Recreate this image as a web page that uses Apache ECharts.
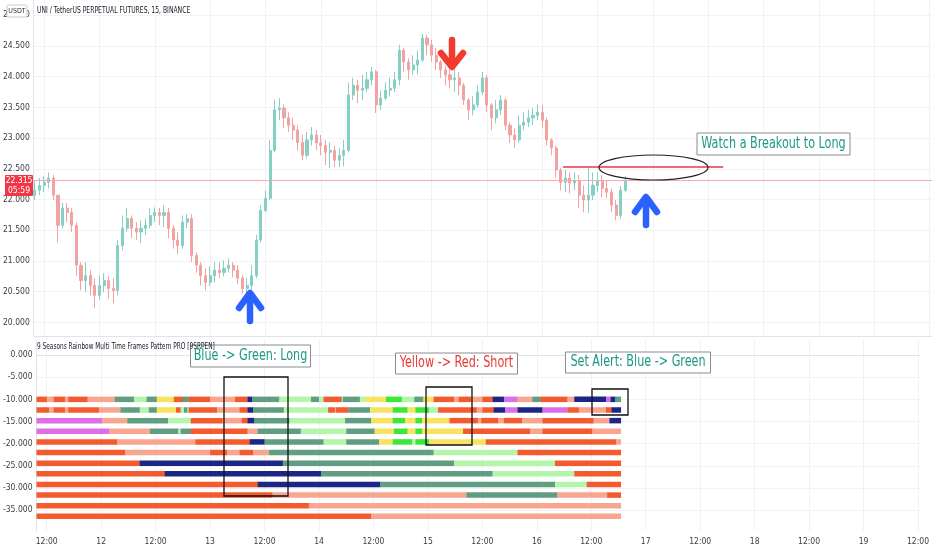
<!DOCTYPE html>
<html>
<head>
<meta charset="utf-8">
<script src="https://cdn.jsdelivr.net/npm/echarts@6/dist/echarts.min.js"></script>
<style>
html,body{margin:0;padding:0;background:#fff;}
#chart{width:932px;height:550px;}
</style>
</head>
<body>
<div id="chart"></div>
<script>
// ---------- DATA ----------
const firstHour = 10;          // hour (from day 11 00:00) of first candle
const firstOpen = 22.07;
const closes = [
 22.15,22.23,22.28,22.35,22.07,21.58,21.86,21.79,21.58,20.93,
 20.68,20.76,20.60,20.44,20.60,20.68,20.55,20.52,21.25,21.53,
 21.69,21.53,21.47,21.53,21.58,21.74,21.79,21.74,21.79,21.53,
 21.34,21.25,21.63,21.69,21.09,20.93,20.76,20.65,20.76,20.85,
 20.81,20.88,20.93,20.85,20.72,20.55,20.60,20.76,21.34,21.82,
 22.02,22.80,23.46,23.49,23.33,23.21,23.13,22.93,22.72,22.97,
 23.05,22.92,22.88,22.77,22.80,22.64,22.72,22.80,23.70,23.86,
 23.78,23.81,23.95,24.08,23.54,23.65,23.78,23.81,23.95,24.43,
 24.24,24.11,24.19,24.27,24.63,24.52,24.35,24.24,24.11,24.03,
 23.95,23.98,23.86,23.62,23.46,23.54,23.75,23.98,23.54,23.33,
 23.46,23.62,23.21,23.05,22.97,23.21,23.26,23.33,23.37,23.42,
 23.29,22.97,22.84,22.48,22.28,22.35,22.27,22.31,22.07,21.99,
 22.07,22.23,22.31,22.18,22.12,21.91,21.74,22.15,22.315
];
const highs = [
 22.31,22.35,22.38,22.44,22.40,22.07,21.95,21.94,21.86,21.63,
 20.98,20.98,20.85,20.72,20.76,20.80,20.76,20.72,21.34,21.74,
 21.86,21.74,21.63,21.66,21.69,21.86,21.87,21.86,21.91,21.86,
 21.58,21.47,21.74,21.76,21.76,21.14,20.98,20.88,20.91,20.98,
 20.98,21.01,21.04,20.98,20.93,20.76,20.72,20.93,21.42,21.91,
 22.15,22.97,23.62,23.65,23.55,23.42,23.33,23.21,23.05,23.10,
 23.18,23.13,23.05,22.97,22.93,22.88,22.84,22.97,23.90,23.98,
 23.95,24.03,24.08,24.16,24.11,23.78,23.91,23.98,24.08,24.52,
 24.47,24.30,24.35,24.43,24.70,24.68,24.60,24.47,24.27,24.17,
 24.11,24.14,24.08,23.90,23.65,23.68,23.86,24.08,24.03,23.57,
 23.62,23.70,23.65,23.26,23.16,23.37,23.42,23.46,23.49,23.55,
 23.54,23.33,23.00,22.88,22.51,22.48,22.44,22.44,22.40,22.23,
 22.53,22.44,22.44,22.40,22.31,22.18,21.99,22.22,22.38
];
const lows = [
 21.99,22.07,22.12,22.18,21.99,21.30,21.53,21.63,21.47,20.76,
 20.52,20.49,20.44,20.23,20.36,20.49,20.39,20.31,20.44,21.17,
 21.47,21.37,21.34,21.29,21.42,21.53,21.63,21.58,21.55,21.37,
 21.20,21.12,21.20,21.53,20.98,20.81,20.60,20.52,20.59,20.65,
 20.72,20.75,20.81,20.73,20.62,20.47,20.45,20.52,20.72,21.30,
 21.79,21.99,22.77,23.29,23.16,23.10,22.97,22.80,22.64,22.67,
 22.88,22.80,22.72,22.56,22.51,22.53,22.53,22.54,22.77,23.62,
 23.57,23.62,23.75,23.86,23.41,23.46,23.62,23.68,23.75,23.86,
 24.08,23.95,24.03,24.04,24.24,24.35,24.24,24.11,23.98,23.86,
 23.81,23.75,23.70,23.54,23.29,23.37,23.49,23.70,23.42,23.13,
 23.24,23.37,23.13,22.92,22.84,22.93,23.13,23.18,23.21,23.29,
 23.16,22.88,22.72,22.35,22.15,22.12,22.10,22.15,21.86,21.79,
 21.78,21.99,22.12,22.04,22.02,21.79,21.66,21.69,22.12
];
const lastPrice = 22.315;
const resistance = 22.53;
const resistanceFrom = 124.5, resistanceTo = 159.25;

// tick labels
const xTicks = [12,24,36,48,60,72,84,96,108,120,132,144,156,168,180,192,204];
const xTickLabels = ['12:00','12','12:00','13','12:00','14','12:00','15','12:00','16','12:00','17','12:00','18','12:00','19','12:00'];
const priceTicks = [20,20.5,21,21.5,22,22.5,23,23.5,24,24.5,25];
const indTicks = [0,-5,-10,-15,-20,-25,-30,-35];

// rainbow indicator rows: level + segments [endHour, colourCode]
const rowStart = 9.75;
const rowLevels = [-10,-12.4,-14.8,-17.2,-19.6,-22,-24.4,-26.8,-29.2,-31.6,-34,-36.4];
const row1 = [[12,'R'],[13.5,'S'],[16,'R'],[16.75,'S'],[21,'R'],[27,'S'],[31.25,'D'],[34,'L'],[36.25,'D'],[40,'Y'],[42,'R'],[43.25,'D'],[48,'R'],[53.5,'S'],[56.25,'R'],[57.25,'N'],[63.25,'D'],[70.25,'L'],[72,'D'],[73,'L'],[77,'R'],[77.25,'L'],[81,'D'],[82.25,'L'],[86.75,'Y'],[90.25,'G'],[93,'L'],[95,'D'],[97.25,'Y'],[101.75,'R'],[102.75,'S'],[105.5,'R'],[108,'S'],[110.25,'R'],[112.75,'N'],[115.75,'V'],[119,'S'],[120.75,'D'],[126.75,'R'],[128.25,'S'],[135.25,'N'],[136.25,'V'],[137.25,'N'],[138.5,'D']];
const row2 = [[12.5,'R'],[13.5,'S'],[16,'R'],[16.75,'S'],[23.5,'R'],[28.25,'S'],[32.5,'D'],[34.5,'L'],[36.25,'D'],[40.5,'Y'],[41.5,'R'],[42.25,'L'],[43,'D'],[43.25,'L'],[49.5,'R'],[54.5,'S'],[56.25,'R'],[57.5,'N'],[64.25,'D'],[74,'L'],[75.5,'R'],[75.75,'S'],[78.5,'R'],[83.25,'D'],[88.25,'Y'],[91.5,'G'],[93.25,'Y'],[96.25,'G'],[98.25,'L'],[106.75,'R'],[108,'S'],[110.5,'R'],[113,'N'],[115.75,'V'],[121.25,'N'],[126.75,'V'],[129.25,'R'],[135.25,'S'],[136.5,'R'],[138.5,'N']];
const row3 = [[24.25,'V'],[29.75,'S'],[38.75,'D'],[43.75,'L'],[50.75,'R'],[55,'S'],[56.25,'R'],[57.75,'N'],[65.5,'D'],[77.75,'L'],[83.5,'D'],[88.25,'Y'],[91,'G'],[93.25,'Y'],[94.75,'G'],[100.75,'Y'],[107,'R'],[107.75,'S'],[111.5,'R'],[112.75,'S'],[116.75,'R'],[121.25,'S'],[132.5,'R'],[136,'S'],[138.5,'N']];
const row4 = [[25.75,'V'],[34.75,'S'],[41,'D'],[41.5,'L'],[43.75,'D'],[56.25,'R'],[58.5,'S'],[68,'D'],[78,'L'],[84.25,'D'],[88.5,'Y'],[91.5,'G'],[93.25,'Y'],[94.75,'G'],[103.75,'Y'],[118.5,'R'],[121.25,'S'],[132.25,'R'],[138.5,'S']];
const row5 = [[27.5,'R'],[44.75,'S'],[56.75,'R'],[60,'N'],[73,'D'],[78,'L'],[85.25,'D'],[88.25,'Y'],[92.5,'G'],[93.25,'L'],[96.25,'G'],[108.75,'Y'],[137.5,'R'],[138.5,'S']];
const row6 = [[29.25,'R'],[48,'S'],[51.75,'R'],[54.5,'S'],[57.5,'R'],[61,'S'],[97.25,'D'],[115.75,'L'],[138.5,'R']];
const row7 = [[32.5,'R'],[64,'N'],[101.75,'D'],[124,'L'],[138.5,'R']];
const row8 = [[38,'R'],[72.5,'N'],[110.25,'D'],[128.25,'L'],[138.5,'R']];
const row9 = [[58.5,'R'],[85.5,'N'],[124,'D'],[131,'L'],[138.5,'R']];
const row10 = [[61.75,'R'],[104.5,'S'],[124.5,'D'],[135.5,'S'],[138.5,'R']];
const row11 = [[69.75,'R'],[138.5,'S']];
const row12 = [[83.5,'R'],[138.5,'S']];
const rows = [row1,row2,row3,row4,row5,row6,row7,row8,row9,row10,row11,row12];

// ---------- STYLE ----------
const palette = {R:'#f35a2e',S:'#f8a68e',D:'#5f9e82',L:'#b3f5a9',G:'#3ce63a',Y:'#f7e35c',N:'#1c2785',V:'#dd6eea'};
const FONT = "'Liberation Sans Narrow','DejaVu Sans Condensed','Roboto',sans-serif";
const TEAL = '#1b9886', RED = '#e8382f', BLUE = '#2962ff';

// ---------- BUILD ----------
const candleData = closes.map((c,i)=>{
  const o = i===0 ? firstOpen : closes[i-1];
  return [firstHour+i, o, c, lows[i], highs[i]];
});
const segData = [];
rows.forEach((r,ri)=>{
  let s = rowStart;
  r.forEach(([e,code])=>{ segData.push([s,e,rowLevels[ri],code]); s = e; });
});

const chart = echarts.init(document.getElementById('chart'), null, {renderer:'canvas'});
const xMin = 9.75, xMax = 204.5;
const gridLine = {show:true, lineStyle:{color:'#f0f2f6', width:1}};
const axisLbl = {fontFamily:FONT, fontSize:8.5, color:'#3a3d45'};

function rectG(x,y,w,h,stroke,lw){return {type:'rect',shape:{x:x,y:y,width:w,height:h},style:{fill:'none',stroke:stroke,lineWidth:lw},z:100};}
function boxText(x,y,w,h,text,color){
  return [{type:'rect',shape:{x:x,y:y,width:w,height:h},style:{fill:'#fff',stroke:'#8a8c90',lineWidth:1},z:100},
          {type:'text',x:x+w/2,y:y+h/2,scaleX:0.83,style:{text:text,fill:color,font:'15px '+FONT,align:'center',verticalAlign:'middle'},z:101}];
}
function arrowUp(x,tip,bottom,color){
  return [{type:'polyline',shape:{points:[[x-11,tip+15],[x,tip],[x+11,tip+15]]},style:{stroke:color,lineWidth:6.5,lineCap:'round',lineJoin:'round',fill:'none'},z:100},
          {type:'line',shape:{x1:x,y1:tip+2,x2:x,y2:bottom},style:{stroke:color,lineWidth:6.5,lineCap:'round'},z:100}];
}
function arrowDown(x,top,tip,color){
  return [{type:'polyline',shape:{points:[[x-11,tip-14],[x,tip],[x+11,tip-14]]},style:{stroke:color,lineWidth:6.5,lineCap:'round',lineJoin:'round',fill:'none'},z:100},
          {type:'line',shape:{x1:x,y1:top,x2:x,y2:tip-2},style:{stroke:color,lineWidth:6.5,lineCap:'round'},z:100}];
}

const graphics = [].concat(
  [{type:'rect',shape:{x:7,y:5,width:20,height:12,r:1},style:{fill:'#fff',stroke:'#c9cbd1',lineWidth:1},z:100},
   {type:'text',x:17,y:11,style:{text:'USDT',fill:'#333',font:'7px '+FONT,align:'center',verticalAlign:'middle'},z:101},
   {type:'text',x:37,y:11,scaleX:0.75,style:{text:'UNI / TetherUS PERPETUAL FUTURES, 15, BINANCE',fill:'#131722',font:'9px '+FONT,verticalAlign:'middle'},z:101},
   {type:'text',x:37,y:347,scaleX:0.72,style:{text:'9 Seasons Rainbow Multi Time Frames Pattern PRO [9SRPEN]',fill:'#131722',font:'9px '+FONT,verticalAlign:'middle'},z:101},
   {type:'rect',shape:{x:5,y:175,width:28,height:21,r:1},style:{fill:'#f23645'},z:100},
   {type:'text',x:19,y:180.5,style:{text:'22.315',fill:'#fff',font:'8.5px '+FONT,align:'center',verticalAlign:'middle'},z:101},
   {type:'text',x:19,y:190.5,style:{text:'05:59',fill:'#fff',font:'8.5px '+FONT,align:'center',verticalAlign:'middle'},z:101},
   {type:'ellipse',shape:{cx:653.5,cy:167.5,rx:54.5,ry:12.5},style:{fill:'none',stroke:'#222',lineWidth:1.2},z:100},
   rectG(224,377,64,119,'#111',1.3), rectG(426,387,46,58,'#111',1.3), rectG(592,389,36,26,'#111',1.3)
  ],
  arrowUp(250,293,321,BLUE), arrowUp(646,197,225,BLUE), arrowDown(452,40,67,'#f23b2f'),
  boxText(697,133,153,22,'Watch a Breakout to Long',TEAL),
  boxText(190.5,345,120,22,'Blue -> Green: Long',TEAL),
  boxText(395.5,353,122,21,'Yellow -> Red: Short',RED),
  boxText(565.5,352,145,21,'Set Alert: Blue -> Green',TEAL)
);

const option = {
  animation:false,
  backgroundColor:'#ffffff',
  textStyle:{fontFamily:FONT},
  grid:[{left:33,right:0,top:0,height:336},{left:33,right:0,top:340,bottom:19}],
  xAxis:[
    {type:'value',gridIndex:0,min:xMin,max:xMax,
     axisLine:{show:true,lineStyle:{color:'#e0e3eb'}},
     axisTick:{show:false,customValues:xTicks},axisLabel:{show:false,customValues:xTicks},splitLine:gridLine},
    {type:'value',gridIndex:1,min:xMin,max:xMax,
     axisLine:{show:true,lineStyle:{color:'#e0e3eb'}},
     axisTick:{show:false,customValues:xTicks},
     axisLabel:Object.assign({customValues:xTicks,margin:6,formatter:v=>xTickLabels[xTicks.indexOf(v)]},axisLbl),
     splitLine:gridLine}
  ],
  yAxis:[
    {type:'value',gridIndex:0,min:19.777,max:25.249,position:'left',
     axisLine:{show:true,lineStyle:{color:'#e0e3eb'}},
     axisTick:{show:false,customValues:priceTicks},
     axisLabel:Object.assign({customValues:priceTicks,margin:4,formatter:v=>v.toFixed(3)},axisLbl),
     splitLine:gridLine},
    {type:'value',gridIndex:1,min:-39.7,max:3.39,position:'left',
     axisLine:{show:true,lineStyle:{color:'#e0e3eb'}},
     axisTick:{show:false,customValues:indTicks},
     axisLabel:Object.assign({customValues:indTicks,margin:4,formatter:v=>v.toFixed(3)},axisLbl),
     splitLine:gridLine}
  ],
  series:[
    {type:'candlestick',xAxisIndex:0,yAxisIndex:0,data:candleData,
     encode:{x:0,y:[1,2,3,4]},barWidth:2.6,
     itemStyle:{color:'#86cfc3',color0:'#f3a2a2',borderColor:'#86cfc3',borderColor0:'#f3a2a2',borderWidth:1},
     markLine:{symbol:'none',silent:true,label:{show:false},animation:false,
       data:[
         {yAxis:lastPrice,lineStyle:{color:'#f6aab0',width:1,type:'solid'}},
         [{coord:[resistanceFrom,resistance],lineStyle:{color:'#f23645',width:1.6,type:'solid'}},{coord:[resistanceTo,resistance]}]
       ]}
    },
    {type:'custom',xAxisIndex:1,yAxisIndex:1,data:segData,
     encode:{x:[0,1],y:2},
     renderItem:function(params,api){
       const a = api.coord([api.value(0),api.value(2)]);
       const b = api.coord([api.value(1),api.value(2)]);
       const h = 5.5;
       return {type:'rect',shape:{x:a[0],y:a[1]-h/2,width:b[0]-a[0]+0.3,height:h},
               style:{fill:palette[segData[params.dataIndex][3]]}};
     }}
  ],
  graphic:graphics
};
chart.setOption(option);
</script>
</body>
</html>
